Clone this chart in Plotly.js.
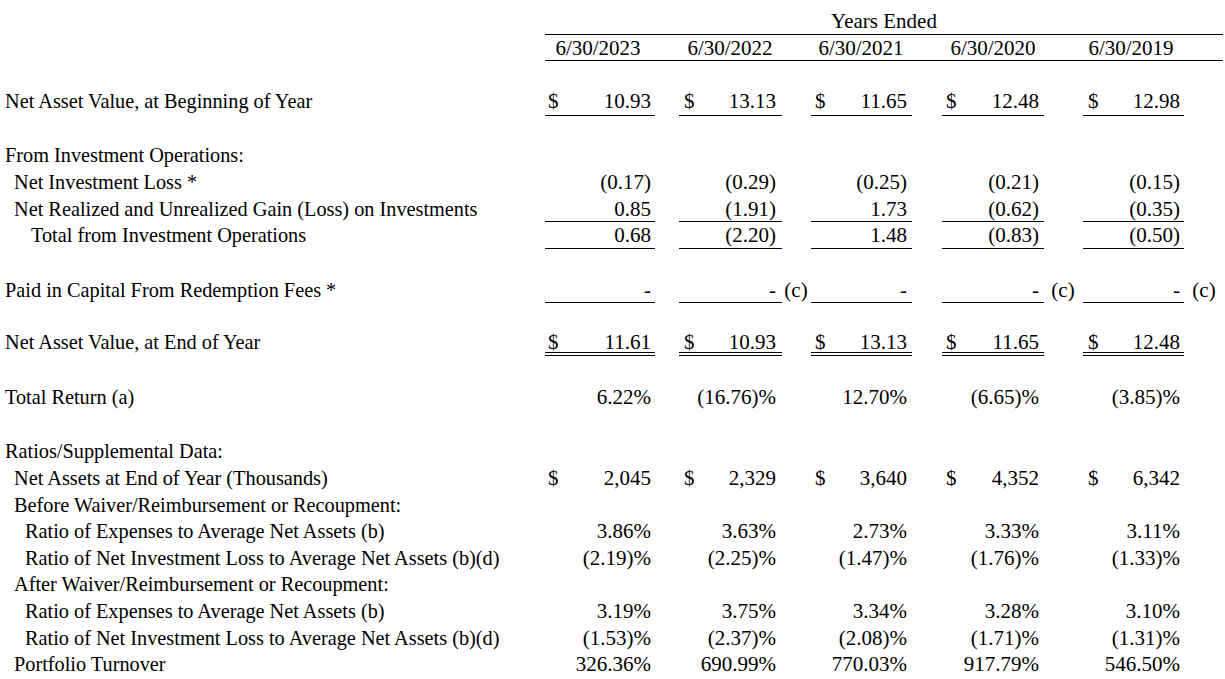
<!DOCTYPE html>
<html>
<head>
<meta charset="utf-8">
<script src="https://cdn.plot.ly/plotly-3.0.1.min.js"></script>
<style>html,body{margin:0;padding:0;background:#fff;}#chart{width:1225px;height:679px;}</style>
</head>
<body>
<div id="chart"></div>
<script>
// ---- data ----
const headerTitle = 'Years Ended';
const periods = ['6/30/2023', '6/30/2022', '6/30/2021', '6/30/2020', '6/30/2019'];
const navBeginning = [10.93, 13.13, 11.65, 12.48, 12.98];
const netInvestmentLoss = [-0.17, -0.29, -0.25, -0.21, -0.15];
const netGainLoss = [0.85, -1.91, 1.73, -0.62, -0.35];
const totalFromOperations = [0.68, -2.20, 1.48, -0.83, -0.50];
const redemptionFees = [0, 0, 0, 0, 0];
const redemptionNotes = ['', '(c)', '', '(c)', '(c)'];
const navEnd = [11.61, 10.93, 13.13, 11.65, 12.48];
const totalReturn = [6.22, -16.76, 12.70, -6.65, -3.85];
const netAssetsThousands = [2045, 2329, 3640, 4352, 6342];
const expenseRatioBefore = [3.86, 3.63, 2.73, 3.33, 3.11];
const nilRatioBefore = [-2.19, -2.25, -1.47, -1.76, -1.33];
const expenseRatioAfter = [3.19, 3.75, 3.34, 3.28, 3.10];
const nilRatioAfter = [-1.53, -2.37, -2.08, -1.71, -1.31];
const portfolioTurnover = [326.36, 690.99, 770.03, 917.79, 546.50];

const rowLabels = [
  'Net Asset Value, at Beginning of Year',
  'From Investment Operations:',
  'Net Investment Loss *',
  'Net Realized and Unrealized Gain (Loss) on Investments',
  'Total from Investment Operations',
  'Paid in Capital From Redemption Fees *',
  'Net Asset Value, at End of Year',
  'Total Return (a)',
  'Ratios/Supplemental Data:',
  'Net Assets at End of Year (Thousands)',
  'Before Waiver/Reimbursement or Recoupment:',
  'Ratio of Expenses to Average Net Assets (b)',
  'Ratio of Net Investment Loss to Average Net Assets (b)(d)',
  'After Waiver/Reimbursement or Recoupment:',
  'Ratio of Expenses to Average Net Assets (b)',
  'Ratio of Net Investment Loss to Average Net Assets (b)(d)',
  'Portfolio Turnover'
];

// ---- layout geometry (pixel-like coordinates) ----
const W = 1225, H = 679;
const FAMILY = 'Liberation Serif, Times New Roman, serif';
const LABEL_FONT = {family: FAMILY, size: 20.3, color: '#000'};
const VALUE_FONT = {family: FAMILY, size: 21, color: '#000'};
const rowY = [103, 157, 184, 211, 237, 292, 344, 399, 453, 480, 507, 533, 560, 586, 613, 640, 666];
const labelX = [5, 5, 14, 14, 31, 5, 5, 5, 5, 14, 14, 25, 25, 14, 25, 25, 14];
const valRight = [651, 776, 907, 1039, 1180];
const dollarLeft = [548, 684, 815, 946, 1088];
const lineL = [545, 679, 811, 942, 1083];
const lineR = [655, 782, 912, 1044, 1184];
const dateCenter = [598, 730, 861, 993, 1131];
const noteX = [0, 796, 0, 1063, 1204];

// ---- formatters ----
function num(v) { const s = Math.abs(v).toFixed(2); return v < 0 ? '(' + s + ')' : s; }
function pct(v) { const s = Math.abs(v).toFixed(2); return v < 0 ? '(' + s + ')%' : s + '%'; }
function thou(v) { return v.toLocaleString('en-US'); }
function dash(v) { return v === 0 ? '-' : num(v); }

const traces = [];
function textTrace(xs, ys, texts, pos, font) {
  traces.push({type: 'scatter', mode: 'text', x: xs, y: ys, text: texts,
    textposition: pos, textfont: font || VALUE_FONT, hoverinfo: 'skip', showlegend: false, cliponaxis: false});
}

// header
textTrace([884], [23], [headerTitle], 'middle center');
textTrace(dateCenter, dateCenter.map(() => 50), periods, 'middle center');

// row labels
textTrace(labelX, rowY, rowLabels, 'middle right', LABEL_FONT);

// values
const valueRows = [
  [0, navBeginning, num, true],
  [2, netInvestmentLoss, num, false],
  [3, netGainLoss, num, false],
  [4, totalFromOperations, num, false],
  [5, redemptionFees, dash, false],
  [6, navEnd, num, true],
  [7, totalReturn, pct, false],
  [9, netAssetsThousands, thou, true],
  [11, expenseRatioBefore, pct, false],
  [12, nilRatioBefore, pct, false],
  [14, expenseRatioAfter, pct, false],
  [15, nilRatioAfter, pct, false],
  [16, portfolioTurnover, pct, false]
];
valueRows.forEach(([r, arr, fmt, dollar]) => {
  textTrace(valRight, arr.map(() => rowY[r]), arr.map(fmt), 'middle left');
  if (dollar) textTrace(dollarLeft, arr.map(() => rowY[r]), arr.map(() => '$'), 'middle right');
});
// redemption notes
const nIdx = redemptionNotes.map((t, i) => i).filter(i => redemptionNotes[i]);
textTrace(nIdx.map(i => noteX[i]), nIdx.map(() => rowY[5]), nIdx.map(i => redemptionNotes[i]), 'middle center');

// lines
const shapes = [];
function hline(x0, x1, y) {
  shapes.push({type: 'line', xref: 'x', yref: 'y', x0: x0, x1: x1, y0: y, y1: y, line: {color: '#000', width: 1}});
}
hline(545, 1223, 34.5);
hline(545, 1223, 60.5);
const underlineY = [115.5, 221.5, 248.5, 302.5, 352.5, 355.5];
underlineY.forEach(y => lineL.forEach((x, i) => hline(x, lineR[i], y)));

Plotly.newPlot('chart', traces, {
  width: W, height: H,
  margin: {l: 0, r: 0, t: 0, b: 0},
  paper_bgcolor: '#fff', plot_bgcolor: '#fff',
  xaxis: {range: [0, W], visible: false, fixedrange: true},
  yaxis: {range: [H, 0], visible: false, fixedrange: true},
  shapes: shapes,
  showlegend: false
}, {displayModeBar: false, staticPlot: true});
</script>
</body>
</html>
